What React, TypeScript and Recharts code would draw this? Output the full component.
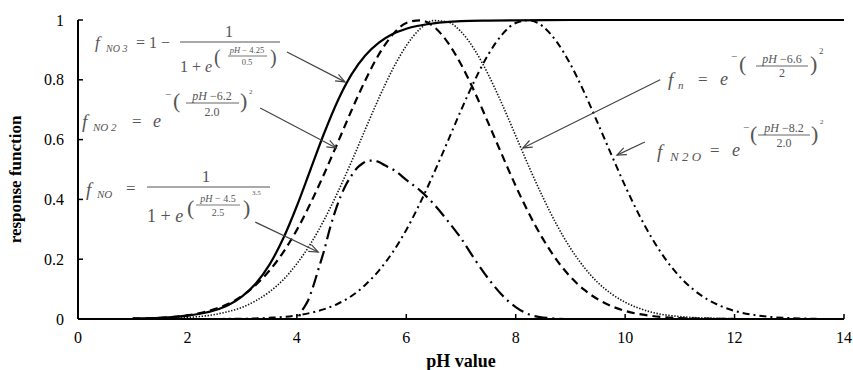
import React from 'react';
import { LineChart, Line, XAxis, YAxis, ReferenceLine } from 'recharts';

// f_NO3 (solid)
const phNO3 = [1, 1.5, 2, 2.5, 2.75, 3, 3.25, 3.5, 3.75, 4, 4.25, 4.5, 4.75, 5, 5.25, 5.5, 5.75, 6, 6.5, 7, 7.5, 8, 9, 10, 11, 12, 13, 14];
const fNO3 = [0.002, 0.004, 0.011, 0.029, 0.047, 0.076, 0.119, 0.182, 0.269, 0.378, 0.5, 0.622, 0.731, 0.818, 0.881, 0.924, 0.953, 0.971, 0.989, 0.996, 0.998, 0.999, 1, 1, 1, 1, 1, 1];

// f_NO2 (dashed)
const phNO2 = [1, 1.5, 2, 2.5, 2.75, 3, 3.25, 3.5, 3.75, 4, 4.25, 4.5, 4.75, 5, 5.25, 5.5, 5.75, 6, 6.25, 6.5, 6.75, 7, 7.25, 7.5, 7.75, 8, 8.25, 8.5, 8.75, 9, 9.25, 9.5, 9.75, 10, 10.5, 11, 11.5, 12];
const fNO2 = [0.001, 0.004, 0.012, 0.033, 0.051, 0.077, 0.114, 0.162, 0.223, 0.298, 0.387, 0.486, 0.591, 0.698, 0.798, 0.885, 0.951, 0.99, 0.999, 0.978, 0.927, 0.852, 0.759, 0.655, 0.549, 0.445, 0.35, 0.267, 0.197, 0.141, 0.098, 0.066, 0.043, 0.027, 0.01, 0.003, 0.001, 0];

// f_n (dotted)
const phN = [1, 1.5, 2, 2.5, 2.75, 3, 3.25, 3.5, 3.75, 4, 4.25, 4.5, 4.75, 5, 5.25, 5.5, 5.75, 6, 6.25, 6.5, 6.75, 7, 7.25, 7.5, 7.75, 8, 8.25, 8.5, 8.75, 9, 9.25, 9.5, 9.75, 10, 10.25, 10.5, 11, 11.5, 12, 12.5];
const fN = [0.0004, 0.0015, 0.005, 0.015, 0.025, 0.039, 0.061, 0.091, 0.131, 0.185, 0.251, 0.332, 0.425, 0.527, 0.634, 0.739, 0.835, 0.914, 0.97, 0.998, 0.994, 0.961, 0.9, 0.817, 0.719, 0.613, 0.506, 0.406, 0.315, 0.237, 0.173, 0.122, 0.084, 0.056, 0.036, 0.022, 0.008, 0.003, 0.001, 0];

// f_N2O (dash-dot)
const phN2O = [1, 2, 2.5, 3, 3.5, 4, 4.5, 4.75, 5, 5.25, 5.5, 5.75, 6, 6.25, 6.5, 6.75, 7, 7.25, 7.5, 7.75, 8, 8.25, 8.5, 8.75, 9, 9.25, 9.5, 9.75, 10, 10.25, 10.5, 10.75, 11, 11.25, 11.5, 11.75, 12, 12.5, 13, 13.5];
const fN2O = [0, 0.0001, 0.0003, 0.001, 0.004, 0.012, 0.033, 0.051, 0.077, 0.114, 0.162, 0.223, 0.298, 0.387, 0.486, 0.591, 0.698, 0.798, 0.885, 0.951, 0.99, 0.999, 0.978, 0.927, 0.852, 0.759, 0.655, 0.549, 0.445, 0.35, 0.267, 0.197, 0.141, 0.098, 0.066, 0.043, 0.027, 0.01, 0.003, 0.001];

// f_NO (long dash-dot)
const phNO = [1, 2, 3, 4, 4.1, 4.2, 4.3, 4.4, 4.5, 4.6, 4.7, 4.8, 4.9, 5, 5.1, 5.2, 5.3, 5.4, 5.5, 5.6, 5.8, 6, 6.25, 6.5, 6.75, 7, 7.25, 7.5, 7.75, 8, 8.25, 8.5, 9, 10];
const fNO = [0, 0, 0, 0, 0.03, 0.06, 0.11, 0.17, 0.23, 0.3, 0.36, 0.41, 0.45, 0.48, 0.505, 0.52, 0.53, 0.53, 0.525, 0.515, 0.495, 0.465, 0.43, 0.385, 0.33, 0.27, 0.2, 0.135, 0.08, 0.04, 0.015, 0.005, 0, 0];

const xTicks = [0, 2, 4, 6, 8, 10, 12, 14];
const yTicks = [0, 0.2, 0.4, 0.6, 0.8, 1];

// arrow from formula (first point) to curve (second point), in pH / response units
const arrowNO3 = [{ x: 3.82, y: 0.893 }, { x: 4.88, y: 0.793 }];
const arrowNO2 = [{ x: 3.33, y: 0.706 }, { x: 4.72, y: 0.572 }];
const arrowNO = [{ x: 3.24, y: 0.324 }, { x: 4.39, y: 0.224 }];
const arrowN = [{ x: 10.64, y: 0.8 }, { x: 8.13, y: 0.572 }];
const arrowN2O = [{ x: 10.36, y: 0.592 }, { x: 9.85, y: 0.548 }];

const toRows = (ph: number[], vals: number[]) => ph.map((p, i) => ({ ph: p, v: vals[i] }));

const FONT = '"Liberation Serif", "Times New Roman", serif';
const TICK_SIZE = 8;
const X_MARGIN = 5;
const Y_MARGIN = 6;

const XTick = (props: any) => {
  const { x, y, payload } = props;
  const axisY = y - TICK_SIZE - X_MARGIN;
  return (
    <g>
      <line x1={x} x2={x} y1={axisY} y2={axisY - 5} stroke="#000" strokeWidth={1.5} />
      <text x={x} y={y} dy="0.71em" textAnchor="middle" fontFamily={FONT} fontSize={16} fill="#000">
        {payload.value}
      </text>
    </g>
  );
};

const YTick = (props: any) => {
  const { x, y, payload } = props;
  const axisX = x + TICK_SIZE + Y_MARGIN;
  return (
    <g>
      <line x1={axisX} x2={axisX + 5} y1={y} y2={y} stroke="#000" strokeWidth={1.5} />
      <text x={x} y={y} dy="0.355em" textAnchor="end" fontFamily={FONT} fontSize={16} fill="#000">
        {payload.value}
      </text>
    </g>
  );
};

const arrowShape = (props: any) => {
  const { x1, y1, x2, y2 } = props;
  const ang = Math.atan2(y2 - y1, x2 - x1);
  const len = 10;
  const spread = 0.38;
  const ax = x2 - len * Math.cos(ang - spread);
  const ay = y2 - len * Math.sin(ang - spread);
  const bx = x2 - len * Math.cos(ang + spread);
  const by = y2 - len * Math.sin(ang + spread);
  return (
    <g>
      <line x1={x1} y1={y1} x2={x2} y2={y2} stroke="#444" strokeWidth={1.2} />
      <path d={`M${ax},${ay} L${x2},${y2} L${bx},${by}`} fill="none" stroke="#444" strokeWidth={1.2} />
    </g>
  );
};

const YLabel = (props: any) => {
  const vb = props.viewBox || { x: 0, y: 20, width: 78, height: 299 };
  const cx = vb.x + 15;
  const cy = vb.y + vb.height / 2 + 10;
  return (
    <text x={cx} y={cy} transform={`rotate(-90, ${cx}, ${cy})`} textAnchor="middle" dominantBaseline="central"
      fontFamily={FONT} fontSize={17} fontWeight="bold" fill="#000">
      response function
    </text>
  );
};

const G = '#555';

// the five formulas, set as text
const Formulas = () => (
  <svg width={853} height={370} style={{ position: 'absolute', left: 0, top: 0, pointerEvents: 'none' }}
    fontFamily={FONT} fill={G}>
    {/* f_NO3 */}
    <text x={95} y={48} fontSize={17} fontStyle="italic">f</text>
    <text x={106} y={52} fontSize={10} fontStyle="italic">NO 3</text>
    <text x={136} y={48} fontSize={16}>= 1 −</text>
    <text x={229} y={37} fontSize={16} textAnchor="middle">1</text>
    <line x1={180} x2={280} y1={42} y2={42} stroke={G} strokeWidth={1} />
    <text x={180} y={72} fontSize={16}>1 + <tspan fontStyle="italic">e</tspan></text>
    <text x={214} y={64} fontSize={20}>(</text>
    <text x={247} y={53} fontSize={8.5} textAnchor="middle"><tspan fontStyle="italic">pH</tspan> − 4.25</text>
    <line x1={228} x2={267} y1={56} y2={56} stroke={G} strokeWidth={0.8} />
    <text x={247} y={65} fontSize={8.5} textAnchor="middle">0.5</text>
    <text x={270} y={64} fontSize={20}>)</text>

    {/* f_NO2 */}
    <text x={82} y={128} fontSize={19} fontStyle="italic">f</text>
    <text x={93} y={131} fontSize={11} fontStyle="italic">NO 2</text>
    <text x={132} y={127} fontSize={17}>=</text>
    <text x={153} y={127} fontSize={18} fontStyle="italic">e</text>
    <text x={165} y={98} fontSize={11}>−</text>
    <text x={173} y={108} fontSize={22}>(</text>
    <text x={212} y={100} fontSize={12} textAnchor="middle"><tspan fontStyle="italic">pH</tspan> −6.2</text>
    <line x1={186} x2={239} y1={103} y2={103} stroke={G} strokeWidth={0.9} />
    <text x={212} y={116} fontSize={12} textAnchor="middle">2.0</text>
    <text x={240} y={108} fontSize={22}>)</text>
    <text x={249} y={94} fontSize={7}>2</text>

    {/* f_NO */}
    <text x={86} y={196} fontSize={19} fontStyle="italic">f</text>
    <text x={97} y={198} fontSize={11} fontStyle="italic">NO</text>
    <text x={126} y={194} fontSize={17}>=</text>
    <text x={206} y={182} fontSize={17} textAnchor="middle">1</text>
    <line x1={147} x2={270} y1={187} y2={187} stroke={G} strokeWidth={1} />
    <text x={147} y={222} fontSize={18}>1 + <tspan fontStyle="italic">e</tspan></text>
    <text x={187} y={215} fontSize={22}>(</text>
    <text x={218} y={202} fontSize={10} textAnchor="middle"><tspan fontStyle="italic">pH</tspan> − 4.5</text>
    <line x1={196} x2={240} y1={205} y2={205} stroke={G} strokeWidth={0.8} />
    <text x={218} y={216} fontSize={10} textAnchor="middle">2.5</text>
    <text x={243} y={215} fontSize={22}>)</text>
    <text x={252} y={195} fontSize={7}>3.5</text>

    {/* f_n */}
    <text x={668} y={86} fontSize={19} fontStyle="italic">f</text>
    <text x={678} y={89} fontSize={11} fontStyle="italic">n</text>
    <text x={698} y={85} fontSize={17}>=</text>
    <text x={720} y={85} fontSize={18} fontStyle="italic">e</text>
    <text x={731} y={60} fontSize={11}>−</text>
    <text x={739} y={71} fontSize={22}>(</text>
    <text x={782} y={63} fontSize={12} textAnchor="middle"><tspan fontStyle="italic">pH</tspan> −6.6</text>
    <line x1={756} x2={808} y1={66} y2={66} stroke={G} strokeWidth={0.9} />
    <text x={782} y={77} fontSize={12} textAnchor="middle">2</text>
    <text x={810} y={71} fontSize={22}>)</text>
    <text x={819} y={54} fontSize={9}>2</text>

    {/* f_N2O */}
    <text x={657} y={158} fontSize={19} fontStyle="italic">f</text>
    <text x={670} y={161} fontSize={13} fontStyle="italic">N 2 O</text>
    <text x={710} y={156} fontSize={17}>=</text>
    <text x={732} y={156} fontSize={18} fontStyle="italic">e</text>
    <text x={743} y={131} fontSize={11}>−</text>
    <text x={750} y={141} fontSize={22}>(</text>
    <text x={784} y={132} fontSize={12} textAnchor="middle"><tspan fontStyle="italic">pH</tspan> −8.2</text>
    <line x1={758} x2={810} y1={135} y2={135} stroke={G} strokeWidth={0.9} />
    <text x={784} y={147} fontSize={12} textAnchor="middle">2.0</text>
    <text x={811} y={141} fontSize={22}>)</text>
    <text x={820} y={124} fontSize={7}>2</text>
  </svg>
);

export default function App() {
  return (
    <div style={{ position: 'absolute', left: 0, top: 0, width: 853, height: 370, background: '#fff' }}>
      <LineChart width={853} height={370} margin={{ top: 20, right: 9, bottom: 0, left: 0 }}>
        <XAxis
          type="number"
          dataKey="ph"
          domain={[0, 14]}
          ticks={xTicks}
          height={51}
          axisLine={{ stroke: '#000', strokeWidth: 2 }}
          tickLine={false}
          tickSize={TICK_SIZE}
          tickMargin={X_MARGIN}
          tick={<XTick />}
          interval={0}
          label={{ value: 'pH value', position: 'insideBottom', offset: 3, fontFamily: FONT, fontSize: 18, fontWeight: 'bold', fill: '#000' }}
        />
        <YAxis
          type="number"
          domain={[0, 1]}
          ticks={yTicks}
          width={78}
          axisLine={{ stroke: '#000', strokeWidth: 2 }}
          tickLine={false}
          tickSize={TICK_SIZE}
          tickMargin={Y_MARGIN}
          tick={<YTick />}
          interval={0}
          label={{ content: (p: any) => <YLabel {...p} /> }}
        />
        <Line data={toRows(phNO3, fNO3)} dataKey="v" name="NO3" type="monotone" dot={false} stroke="#000" strokeWidth={2.2} isAnimationActive={false} />
        <Line data={toRows(phNO2, fNO2)} dataKey="v" name="NO2" type="monotone" dot={false} stroke="#000" strokeWidth={2.2} strokeDasharray="8 5" isAnimationActive={false} />
        <Line data={toRows(phN, fN)} dataKey="v" name="n" type="monotone" dot={false} stroke="#111" strokeWidth={1.6} strokeDasharray="1.4 1.6" isAnimationActive={false} />
        <Line data={toRows(phN2O, fN2O)} dataKey="v" name="N2O" type="monotone" dot={false} stroke="#000" strokeWidth={2} strokeDasharray="7 4 2 4" isAnimationActive={false} />
        <Line data={toRows(phNO, fNO)} dataKey="v" name="NO" type="monotone" dot={false} stroke="#000" strokeWidth={2.2} strokeDasharray="13 5 2 5" isAnimationActive={false} />
        <ReferenceLine segment={arrowNO3} shape={arrowShape} />
        <ReferenceLine segment={arrowNO2} shape={arrowShape} />
        <ReferenceLine segment={arrowNO} shape={arrowShape} />
        <ReferenceLine segment={arrowN} shape={arrowShape} />
        <ReferenceLine segment={arrowN2O} shape={arrowShape} />
      </LineChart>
      <Formulas />
    </div>
  );
}
